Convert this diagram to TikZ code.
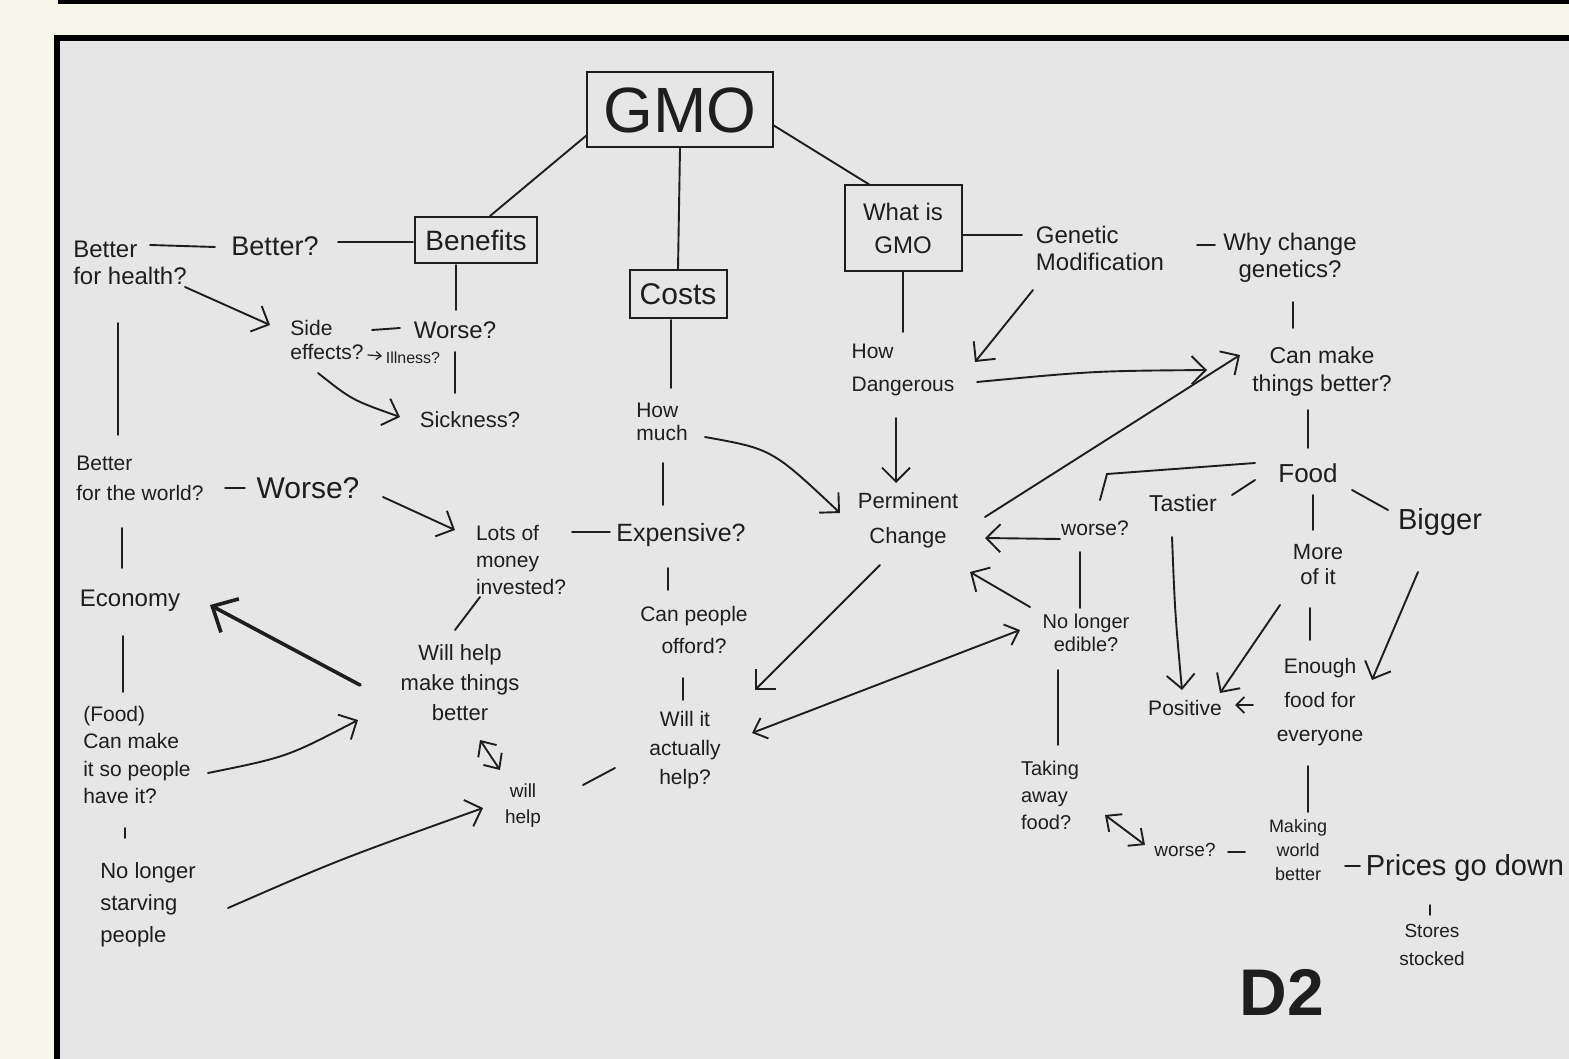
\documentclass[tikz,border=0pt]{standalone}
\usepackage{fontspec}
\setmainfont{Liberation Sans}
\usetikzlibrary{arrows.meta,calc}
\definecolor{paper}{HTML}{F6F6EB}
\definecolor{panel}{HTML}{E6E6E6}
\definecolor{ink}{HTML}{1E1E1E}
\tikzset{
  fs/.style 2 args={font=\fontsize{#1}{#2}\selectfont},
  ln/.style={draw=ink,line width=1.9pt,line cap=round},
  arr/.style={ln,-{Straight Barb[length=14pt,width=28pt]}},
  sarr/.style={ln,line width=1.2pt,-{Straight Barb[length=5pt,width=8pt]}},
  darr/.style={ln,{Straight Barb[length=12pt,width=22pt]}-{Straight Barb[length=12pt,width=22pt]}},
  thk/.style={draw=ink,line width=3.6pt,line cap=round,-{Straight Barb[length=20pt,width=38pt,line width=3.6pt]}},
  lbl/.style={text=ink,inner sep=3pt,align=center},
  box/.style={lbl,draw=ink,line width=2pt,inner sep=0pt}
}
\begin{document}
\begin{tikzpicture}[x=1pt,y=-1pt]
\fill[paper] (0,0) rectangle (1569,1059);
\useasboundingbox (0,0) rectangle (1569,1059);
\fill[black] (58,0) rectangle (1569,4);
\fill[black] (54,35) rectangle (1569,1059);
\fill[panel] (60,41) rectangle (1569,1059);

% boxes
\node[box,minimum width=186pt,minimum height=75pt,fs={64}{64}] (gmo) at (680,110) {GMO};
\node[box,minimum width=122pt,minimum height=46pt,fs={28}{32}] (ben) at (476,240) {Benefits};
\node[box,minimum width=97pt,minimum height=48pt,fs={30}{34}] (cost) at (678,294) {Costs};
\node[box,minimum width=117pt,minimum height=86pt,fs={24}{33}] (what) at (903,228) {What is\\GMO};

% left side
\node[lbl,fs={24}{27},align=left] (bfh) at (130,263) {Better\\for health?};
\node[lbl,fs={27}{31}] (better) at (275,246) {Better?};
\node[lbl,fs={24}{28}] (worse1) at (455,330) {Worse?};
\node[lbl,fs={21}{24},align=left] (side) at (327,340) {Side\\effects?};
\node[lbl,fs={16}{19}] (ill) at (413,358) {Illness?};
\node[lbl,fs={22}{26}] (sick) at (470,420) {Sickness?};
\node[lbl,fs={21}{30},align=left] (bfw) at (140,478) {Better\\for the world?};
\node[lbl,fs={30}{34}] (worse2) at (308,488) {Worse?};
\node[lbl,fs={21}{27},align=left] (lots) at (521,560) {Lots of\\money\\invested?};
\node[lbl,fs={25}{29}] (exp) at (681,535) {Expensive?};
\node[lbl,fs={21}{23},align=left] (howmuch) at (662,422) {How\\much};
\node[lbl,fs={21}{32}] (canp) at (694,630) {Can people\\offord?};
\node[lbl,fs={21}{29}] (willit) at (685,750) {Will it\\actually\\help?};
\node[lbl,fs={19}{26}] (willhelp) at (523,806) {will\\help};
\node[lbl,fs={22}{30}] (wmake) at (460,683) {Will help\\make things\\better};
\node[lbl,fs={24}{28}] (econ) at (130,601) {Economy};
\node[lbl,fs={21}{27.5},align=left] (foodq) at (137,755) {(Food)\\Can make\\it so people\\have it?};
\node[lbl,fs={22}{32},align=left] (starv) at (148,905) {No longer\\starving\\people};

% right side
\node[lbl,fs={24}{27},align=left] (gen) at (1100,248) {Genetic\\Modification};
\node[lbl,fs={24}{27}] (why) at (1290,258) {Why change\\genetics?};
\node[lbl,fs={21}{33},align=left] (dang) at (903,370) {How\\Dangerous};
\node[lbl,fs={23}{28}] (canmake) at (1322,372) {Can make\\things better?};
\node[lbl,fs={22}{35}] (perm) at (908,520) {Perminent\\Change};
\node[lbl,fs={26}{30}] (foodn) at (1308,473) {Food};
\node[lbl,fs={23}{27}] (tastier) at (1183,503) {Tastier};
\node[lbl,fs={29}{33}] (bigger) at (1440,522) {Bigger};
\node[lbl,fs={22}{25}] (more) at (1318,565) {More\\of it};
\node[lbl,fs={21}{25}] (worse3) at (1095,528) {worse?};
\node[lbl,fs={20}{23}] (edible) at (1086,633) {No longer\\edible?};
\node[lbl,fs={20}{27},align=left] (taking) at (1050,795) {Taking\\away\\food?};
\node[lbl,fs={19}{23}] (worse4) at (1185,850) {worse?};
\node[lbl,fs={18}{24}] (making) at (1298,850) {Making\\world\\better};
\node[lbl,fs={29}{33}] (prices) at (1465,868) {Prices go down};
\node[lbl,fs={21}{34}] (enough) at (1320,702) {Enough\\food for\\everyone};
\node[lbl,fs={21}{25}] (positive) at (1185,708) {Positive};
\node[lbl,fs={19}{28}] (stores) at (1432,945) {Stores\\stocked};
\node[lbl,font=\fontsize{66}{66}\selectfont\bfseries] (d2) at (1282,992) {D2};

% connectors: top
\draw[ln] ($(gmo)+(-93,25)$) -- ($(ben)+(14,-24)$);
\draw[ln] (gmo.south) -- (cost.north);
\draw[ln] ($(gmo)+(93,15)$) -- ($(what)+(-33,-43)$);
\draw[ln] ($(what)+(60,7)$) -- ($(gen)+(-78,-13)$);
\draw[ln] ($(why)+(-93,-13)$) -- ($(why)+(-75,-13)$);
\draw[ln] ($(cost)+(-7,26)$) -- ($(howmuch)+(9,-34)$);
\draw[ln] (what.south) -- ($(dang)+(0,-38)$);
\draw[arr] ($(gen)+(-67,42)$) -- ($(dang)+(72,-8)$);
\draw[arr] ($(dang)+(74,12)$) .. controls ($(dang)+(190,1)$) .. ($(canmake)+(-115,-2)$);
\draw[arr] ($(dang)+(-7,48)$) -- ($(perm)+(-12,-37)$);
\draw[ln] ($(why)+(3,44)$) -- ($(canmake)+(-29,-44)$);
\draw[arr] ($(perm)+(77,-3)$) -- ($(canmake)+(-82,-17)$);
\draw[ln] ($(canmake)+(-14,38)$) -- ($(foodn)+(0,-25)$);
\draw[ln] ($(foodn)+(-53,-10)$) -- ($(worse3)+(12,-54)$) -- ($(worse3)+(5,-28)$);
\draw[ln] ($(tastier)+(49,-8)$) -- ($(foodn)+(-53,7)$);
\draw[ln] ($(foodn)+(44,17)$) -- ($(bigger)+(-52,-12)$);
\draw[ln] ($(foodn)+(5,22)$) -- ($(more)+(-5,-35)$);
\draw[arr] ($(worse3)+(-35,11)$) -- ($(perm)+(77,18)$);
\draw[ln] ($(worse3)+(-15,24)$) -- ($(edible)+(-6,-25)$);
\draw[arr] ($(edible)+(-56,-26)$) -- ($(perm)+(62,52)$);
\draw[arr] ($(perm)+(-28,45)$) -- ($(willit)+(70,-60)$);
\draw[darr] ($(willit)+(67,-17)$) -- ($(edible)+(-66,-3)$);
\draw[ln] ($(edible)+(-28,37)$) -- ($(taking)+(8,-50)$);
\draw[darr] ($(taking)+(55,20)$) -- ($(worse4)+(-40,-5)$);
\draw[ln] ($(worse4)+(43,2)$) -- ($(making)+(-53,2)$);
\draw[ln] ($(making)+(47,16)$) -- ($(prices)+(-105,-2)$);
\draw[ln] ($(enough)+(-12,64)$) -- ($(making)+(10,-38)$);
\draw[ln] ($(more)+(-8,43)$) -- ($(enough)+(-10,-62)$);
\draw[arr] ($(more)+(-38,40)$) -- ($(positive)+(35,-15)$);
\draw[arr] ($(tastier)+(-11,34)$) .. controls ($(tastier)+(-8,110)$) .. ($(positive)+(-3,-18)$);
\draw[arr] ($(bigger)+(-22,50)$) -- ($(enough)+(52,-22)$);
\draw[ln,-{Straight Barb[length=8pt,width=16pt]}] ($(enough)+(-67,3)$) -- ($(positive)+(50,-3)$);
\draw[ln] ($(prices)+(-35,37)$) -- ($(stores)+(-2,-30)$);

% connectors: left
\draw[ln] ($(bfh)+(20,-18)$) -- ($(better)+(-60,1)$);
\draw[ln] ($(better)+(63,-4)$) -- ($(ben)+(-63,2)$);
\draw[ln] ($(ben)+(-20,25)$) -- ($(worse1)+(1,-20)$);
\draw[arr] ($(bfh)+(55,24)$) -- ($(side)+(-57,-15)$);
\draw[ln] ($(side)+(45,-10)$) -- ($(worse1)+(-55,-2)$);
\draw[sarr] ($(side)+(41,15)$) -- ($(ill)+(-31,-2)$);
\draw[ln] ($(worse1)+(0,22)$) -- ($(sick)+(-15,-27)$);
\draw[arr] ($(side)+(-9,33)$) .. controls ($(side)+(25,60)$) .. ($(sick)+(-70,-3)$);
\draw[ln] ($(bfh)+(-12,60)$) -- ($(bfw)+(-22,-43)$);
\draw[ln] ($(bfw)+(-18,50)$) -- ($(econ)+(-8,-33)$);
\draw[ln] ($(econ)+(-7,35)$) -- ($(foodq)+(-14,-63)$);
\draw[ln] ($(foodq)+(-12,73)$) -- ($(starv)+(-23,-67)$);
\draw[ln] ($(bfw)+(85,10)$) -- ($(worse2)+(-63,0)$);
\draw[arr] ($(worse2)+(75,9)$) -- ($(lots)+(-66,-30)$);
\draw[ln] ($(lots)+(51,-28)$) -- ($(exp)+(-71,-3)$);
\draw[ln] ($(howmuch)+(1,41)$) -- ($(exp)+(-18,-30)$);
\draw[arr] ($(howmuch)+(43,15)$) .. controls ($(howmuch)+(110,27)$) .. ($(perm)+(-68,-7)$);
\draw[ln] ($(exp)+(-13,33)$) -- ($(canp)+(-26,-40)$);
\draw[ln] ($(canp)+(-11,48)$) -- ($(willit)+(-2,-50)$);
\draw[ln] ($(willhelp)+(60,-21)$) -- ($(willit)+(-70,18)$);
\draw[ln] ($(lots)+(-41,37)$) -- ($(wmake)+(-5,-53)$);
\draw[thk] ($(wmake)+(-100,2)$) -- ($(econ)+(80,4)$);
\draw[arr] ($(foodq)+(71,18)$) .. controls ($(foodq)+(150,2)$) .. ($(wmake)+(-102,37)$);
\draw[arr] ($(starv)+(80,3)$) .. controls ($(starv)+(190,-45)$) .. ($(willhelp)+(-40,2)$);
\draw[darr] ($(wmake)+(20,57)$) -- ($(willhelp)+(-23,-36)$);
\end{tikzpicture}
\end{document}
